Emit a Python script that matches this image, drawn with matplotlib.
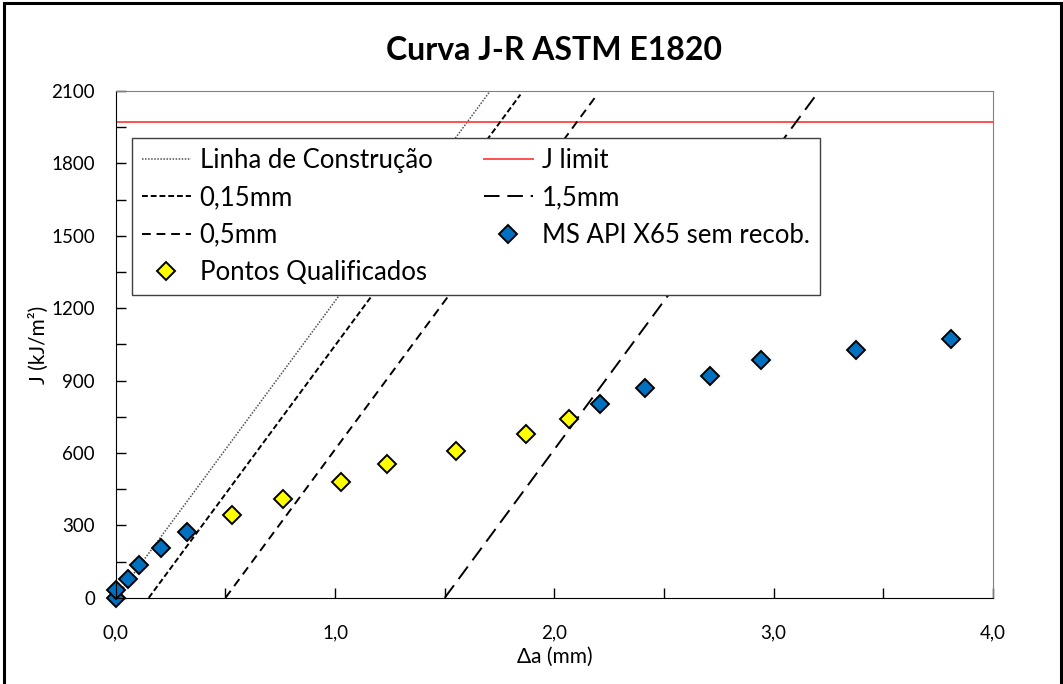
import numpy as np
import matplotlib.pyplot as plt
from matplotlib.patches import Rectangle
from matplotlib.ticker import MultipleLocator, FuncFormatter

plt.rcParams['font.family'] = ['Lato', 'DejaVu Sans']

# Pontos medidos (Δa em mm, J em kJ/m²)
da_inicio = [0.0, 0.0, 0.054, 0.106, 0.204, 0.325]
j_inicio = [0, 32, 76, 138, 205, 271]
da_qualif = [0.530, 0.763, 1.026, 1.236, 1.550, 1.871, 2.067]
j_qualif = [343, 409, 481, 553, 609, 677, 740]
da_fim = [2.208, 2.413, 2.710, 2.941, 3.374, 3.807]
j_fim = [805, 868, 921, 984, 1028, 1073]

# Linha de construção e linhas de exclusão
inclinacao = 1230.0
offsets = [0.15, 0.5, 1.5]
offset_labels = ['0,15mm', '0,5mm', '1,5mm']
j_limit = 1970
j_topo = 2085

fig = plt.figure(figsize=(10.63, 6.84), dpi=100)
ax = fig.add_axes([0.109, 0.126, 0.825, 0.741])

x_c = np.array([0, 2100 / inclinacao])
l_c, = ax.plot(x_c, inclinacao * x_c, color='#505050', ls=(0, (1, 1)), lw=1.1,
               label='Linha de Construção')
l_jl = ax.axhline(j_limit, color='#FF5050', lw=1.4, label='J limit')

estilos = [(0, (3, 1.5)), (0, (4.5, 3)), (0, (8, 4))]
linhas = []
for off, lab, st in zip(offsets, offset_labels, estilos):
    xx = np.array([off, off + j_topo / inclinacao])
    l, = ax.plot(xx, inclinacao * (xx - off), color='black', ls=st, lw=1.4, label=lab)
    linhas.append(l)

azul = '#0070C0'
ms_kw = dict(marker='D', ms=9.2, mec='black', mew=1.4, ls='none')
p_azul, = ax.plot(da_inicio, j_inicio, mfc=azul, label='MS API X65 sem recob.', **ms_kw)
ax.plot(da_fim, j_fim, mfc=azul, **ms_kw)
p_amar, = ax.plot(da_qualif, j_qualif, mfc='#FFFF00', label='Pontos Qualificados', **ms_kw)
for p in (p_azul, p_amar):
    p.set_clip_on(False)

ax.set_xlim(0, 4)
ax.set_ylim(0, 2100)
ax.xaxis.set_major_locator(MultipleLocator(1))
ax.xaxis.set_minor_locator(MultipleLocator(0.5))
ax.yaxis.set_major_locator(MultipleLocator(300))
ax.yaxis.set_minor_locator(MultipleLocator(150))
ax.xaxis.set_major_formatter(FuncFormatter(lambda v, p: f'{v:.1f}'.replace('.', ',')))
ax.tick_params(which='both', direction='in', length=7, width=1, labelsize=13.5)
ax.tick_params(axis='x', pad=19)
ax.tick_params(axis='y', pad=15)

for s in ('top', 'right'):
    ax.spines[s].set_color('#808080')
for s in ('left', 'bottom'):
    ax.spines[s].set_color('black')

ax.set_xlabel('Δa (mm)', fontsize=15, labelpad=4)
ax.set_ylabel('J (kJ/m²)', fontsize=15, labelpad=2)
ax.set_title('Curva J-R ASTM E1820', fontsize=23, fontweight='bold', pad=22)

handles = [l_c, linhas[0], linhas[1], p_amar, l_jl, linhas[2], p_azul]
leg = ax.legend(handles=handles, labels=[h.get_label() for h in handles],
                ncol=2, loc='upper left', bbox_to_anchor=(0.018, 0.907),
                fontsize=18.5, frameon=True, fancybox=False, framealpha=1,
                edgecolor='#404040', handlelength=1.9, handletextpad=0.35,
                columnspacing=2.0, labelspacing=0.47, borderpad=0.4,
                borderaxespad=0, markerscale=0.95, numpoints=1)
leg.get_frame().set_linewidth(1.0)

# moldura externa
fig.patches.append(Rectangle((0.004, -0.05), 0.994, 1.046, transform=fig.transFigure,
                             fill=False, ec='black', lw=2.2))

fig.savefig('out.png', dpi=100)
